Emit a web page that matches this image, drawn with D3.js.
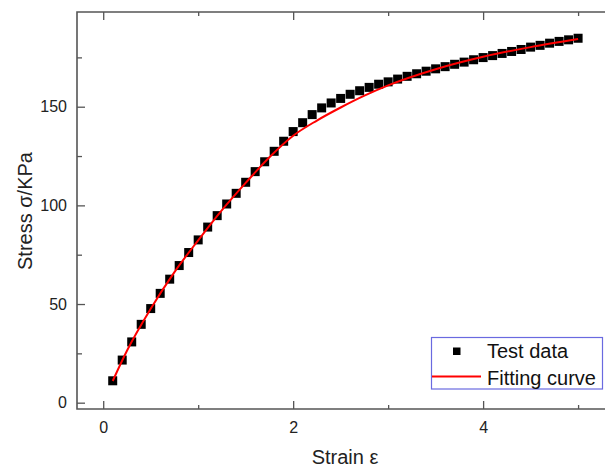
<!DOCTYPE html>
<html>
<head>
<meta charset="utf-8">
<script src="https://cdnjs.cloudflare.com/ajax/libs/d3/7.8.5/d3.min.js"></script>
<style>
    body { margin: 0; background: #fff; }
    svg { display: block; font-family: Arial, "Liberation Sans", sans-serif; }
</style>
</head>
<body>
<div id="chart"></div>
<script>
// test data: strain and measured stress (KPa)
var strain = [0.1, 0.2, 0.3, 0.4, 0.5, 0.6, 0.7, 0.8, 0.9, 1.0,
    1.1, 1.2, 1.3, 1.4, 1.5, 1.6, 1.7, 1.8, 1.9, 2.0,
    2.1, 2.2, 2.3, 2.4, 2.5, 2.6, 2.7, 2.8, 2.9, 3.0,
    3.1, 3.2, 3.3, 3.4, 3.5, 3.6, 3.7, 3.8, 3.9, 4.0,
    4.1, 4.2, 4.3, 4.4, 4.5, 4.6, 4.7, 4.8, 4.9, 5.0];
var stress = [11.1, 21.6, 30.8, 39.7, 47.7, 55.4, 62.6, 69.5, 76.1, 82.5,
    89.0, 94.8, 100.7, 106.1, 111.7, 117.1, 122.1, 127.4, 132.5, 137.4,
    141.9, 146.0, 149.4, 151.9, 154.2, 156.3, 158.1, 159.8, 161.4, 162.6,
    164.0, 165.4, 166.7, 168.0, 169.2, 170.3, 171.5, 172.6, 173.8, 174.9,
    175.9, 177.0, 178.0, 179.0, 180.2, 181.1, 182.2, 183.1, 183.9, 184.7];

// fitting curve
var fitStrain = [0.1, 0.25, 0.5, 0.75, 1.0, 1.25, 1.5, 1.75, 2.0, 2.25, 2.5, 2.75, 3.0, 3.5, 4.0, 4.5, 5.0];
var fitStress = [11.0, 26.3, 47.6, 66.2, 82.3, 97.6, 111.4, 124.4, 135.3, 143.0, 149.6, 155.6, 160.8, 169.0, 175.3, 180.2, 184.3];

var xMajor = [0, 2, 4];
var xMinor = [1, 3, 5];
var yMajor = [0, 50, 100, 150];
var yMinor = [25, 75, 125, 175];

var legendLabels = ["Test data", "Fitting curve"];

var width = 605;
var height = 468;

var plot = { left: 77, right: 610, top: 12, bottom: 409 };

var x = d3.scaleLinear()
    .domain([-0.276, 5.336])
    .range([plot.left, plot.right]);

var y = d3.scaleLinear()
    .domain([-3.2, 198.0])
    .range([plot.bottom, plot.top]);

var svg = d3.select("#chart")
    .append("svg")
    .attr("width", width)
    .attr("height", height);

var axisColour = "#555";

function styleAxis(g) {
    g.select(".domain").remove();
    g.selectAll("line").attr("stroke", axisColour).attr("stroke-width", 1.3);
    g.selectAll("text")
        .attr("fill", "#222")
        .style("font-size", "16px")
        .style("font-family", "Arial, 'Liberation Sans', sans-serif");
}

// bottom axis, ticks pointing in
svg.append("g")
    .attr("transform", "translate(0," + plot.bottom + ")")
    .call(d3.axisBottom(x).tickValues(xMajor).tickSizeInner(-8).tickPadding(13).tickFormat(d3.format("d")))
    .call(styleAxis);

svg.append("g")
    .attr("transform", "translate(0," + plot.bottom + ")")
    .call(d3.axisBottom(x).tickValues(xMinor).tickSizeInner(-4).tickFormat(""))
    .call(styleAxis);

// top axis mirror
svg.append("g")
    .attr("transform", "translate(0," + plot.top + ")")
    .call(d3.axisTop(x).tickValues(xMajor).tickSizeInner(-8).tickFormat(""))
    .call(styleAxis);

svg.append("g")
    .attr("transform", "translate(0," + plot.top + ")")
    .call(d3.axisTop(x).tickValues(xMinor).tickSizeInner(-4).tickFormat(""))
    .call(styleAxis);

// left axis
svg.append("g")
    .attr("transform", "translate(" + plot.left + ",0)")
    .call(d3.axisLeft(y).tickValues(yMajor).tickSizeInner(-8).tickPadding(10).tickFormat(d3.format("d")))
    .call(styleAxis);

svg.append("g")
    .attr("transform", "translate(" + plot.left + ",0)")
    .call(d3.axisLeft(y).tickValues(yMinor).tickSizeInner(-5).tickFormat(""))
    .call(styleAxis);

// frame
svg.append("path")
    .attr("d", "M" + plot.right + "," + plot.top + "H" + plot.left + "V" + plot.bottom + "H" + plot.right)
    .attr("fill", "none")
    .attr("stroke", axisColour)
    .attr("stroke-width", 1.6);

// test data squares
var sq = 9;
svg.append("g")
    .selectAll("rect")
    .data(strain)
    .enter()
    .append("rect")
    .attr("x", function(d) { return x(d) - sq / 2; })
    .attr("y", function(d, i) { return y(stress[i]) - sq / 2; })
    .attr("width", sq)
    .attr("height", sq)
    .attr("fill", "#000");

// fitting curve
var line = d3.line()
    .x(function(d) { return x(d); })
    .y(function(d, i) { return y(fitStress[i]); })
    .curve(d3.curveMonotoneX);

svg.append("path")
    .datum(fitStrain)
    .attr("d", line)
    .attr("fill", "none")
    .attr("stroke", "#ff0000")
    .attr("stroke-width", 2);

// axis titles
svg.append("text")
    .attr("x", 345)
    .attr("y", 464)
    .attr("text-anchor", "middle")
    .attr("fill", "#222")
    .style("font-size", "20px")
    .text("Strain ε");

svg.append("text")
    .attr("transform", "translate(32,211) rotate(-90)")
    .attr("text-anchor", "middle")
    .attr("fill", "#222")
    .style("font-size", "20px")
    .text("Stress σ/KPa");

// legend
var legend = svg.append("g");

legend.append("rect")
    .attr("x", 431.5)
    .attr("y", 337.5)
    .attr("width", 171)
    .attr("height", 51.5)
    .attr("fill", "#fff")
    .attr("stroke", "#6a6ae0")
    .attr("stroke-width", 1.2);

legend.append("rect")
    .attr("x", 453)
    .attr("y", 347.5)
    .attr("width", 7.5)
    .attr("height", 7.5)
    .attr("fill", "#000");

legend.append("line")
    .attr("x1", 432)
    .attr("x2", 481)
    .attr("y1", 376.5)
    .attr("y2", 376.5)
    .attr("stroke", "#ff0000")
    .attr("stroke-width", 2);

legend.selectAll("text")
    .data(legendLabels)
    .enter()
    .append("text")
    .attr("x", 487)
    .attr("y", function(d, i) { return 358 + i * 26.5; })
    .attr("fill", "#111")
    .style("font-size", "20px")
    .text(function(d) { return d; });
</script>
</body>
</html>
